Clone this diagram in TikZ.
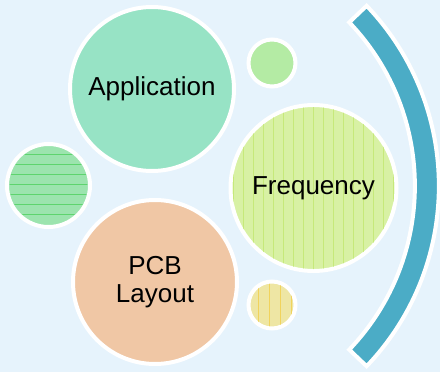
\documentclass[tikz,border=0pt]{standalone}
\usepackage{fontspec}
\setmainfont{Liberation Sans}
\definecolor{bgc}{HTML}{E6F3FC}
\definecolor{arcblue}{HTML}{4BACC6}
\definecolor{appc}{HTML}{97E3C5}
\definecolor{freqc}{HTML}{D8F1A4}
\definecolor{freql}{HTML}{C6E97A}
\definecolor{pcbc}{HTML}{F0C7A5}
\definecolor{smgc}{HTML}{B4EBA4}
\definecolor{leftc}{HTML}{9CE4AE}
\definecolor{leftl}{HTML}{5ED46E}
\definecolor{smyc}{HTML}{EEE6A4}
\definecolor{smyl}{HTML}{F1D35C}
\begin{document}
\begin{tikzpicture}[x=1pt,y=-1pt,
  bubble/.style={circle,draw=white,line width=4pt,inner sep=0pt,
    font=\fontsize{26}{28}\selectfont,align=center,text=black},
  hatch/.style={line width=0.9pt}]
\fill[bgc] (0,0) rectangle (440,372);
\useasboundingbox (0,0) rectangle (440,372);
% arc
\coordinate (ac) at (178,186);
\filldraw[fill=arcblue,draw=white,line width=4pt,line join=miter]
  ([shift={(-43.7:236.9)}]ac) arc[start angle=-43.7,end angle=43.7,radius=236.9]
  -- ([shift={(43.7:260.9)}]ac) arc[start angle=43.7,end angle=-43.7,radius=260.9] -- cycle;
% Application
\node[bubble,fill=appc,minimum size=164pt] (app) at (152,89) {Application};
% small green top
\node[bubble,fill=smgc,minimum size=47pt] (sg) at (272,63) {};
% Frequency
\node[bubble,fill=freqc,minimum size=166pt] (freq) at (313.5,188) {};
\begin{scope}
  \clip (313.5,188) circle[radius=81];
  \foreach \i in {-8,...,8} {
    \draw[freql,hatch] (313.5+10*\i,100) -- (313.5+10*\i,280);
  }
\end{scope}
\node[bubble,draw=none,fill=none] at (freq) {Frequency};
% left small
\node[bubble,fill=leftc,minimum size=83pt] (lc) at (48.5,185.5) {};
\begin{scope}
  \clip (48.5,185.5) circle[radius=39];
  \foreach \i in {-3,...,3} {
    \draw[leftl,hatch] (0,184.5+10*\i) -- (100,184.5+10*\i);
  }
\end{scope}
% PCB Layout
\node[bubble,fill=pcbc,minimum size=164pt] (pcb) at (155,282) {PCB\\Layout};
% small yellow bottom
\node[bubble,fill=smyc,minimum size=47pt] (sy) at (272,305) {};
\begin{scope}
  \clip (272,305) circle[radius=21.5];
  \foreach \x in {258,269,280,291} {
    \draw[smyl,hatch] (\x,280) -- (\x,330);
  }
\end{scope}
\end{tikzpicture}
\end{document}
